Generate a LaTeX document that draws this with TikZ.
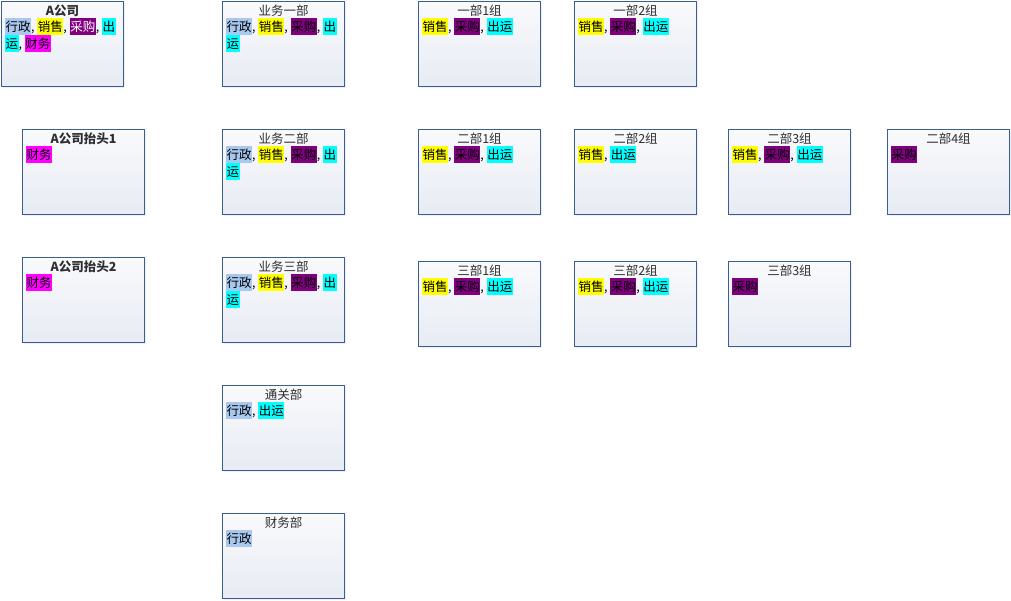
\documentclass[tikz,border=0pt]{standalone}
\usepackage{fontspec}
\setmainfont{Noto Sans CJK SC}
\usetikzlibrary{shadows}
\definecolor{hlblue}{HTML}{A8C8F0}
\definecolor{hlyellow}{HTML}{FFFF00}
\definecolor{hlpurple}{HTML}{800080}
\definecolor{hlcyan}{HTML}{00FFFF}
\definecolor{hlmagenta}{HTML}{FF00FF}
\definecolor{boxborder}{HTML}{3B5E92}
\definecolor{boxtop}{HTML}{F9FAFC}
\definecolor{boxbot}{HTML}{E7EBF3}
\definecolor{titlegray}{HTML}{2E2E2E}
\newcommand\hlbox[3][black]{\begingroup\setlength{\fboxsep}{0pt}\colorbox{#2}{\rule[-4pt]{0pt}{17pt}\hspace{0.5pt}\textcolor{#1}{#3}\hspace{0.5pt}}\endgroup}
\newcommand\tXZ{\hlbox{hlblue}{行政}}
\newcommand\tXS{\hlbox{hlyellow}{销售}}
\newcommand\tCG{\hlbox{hlpurple}{采购}}
\newcommand\tCGw{\hlbox[white]{hlpurple}{采购}}
\newcommand\tCY{\hlbox{hlcyan}{出运}}
\newcommand\tCa{\hlbox{hlcyan}{出}}
\newcommand\tCb{\hlbox{hlcyan}{运}}
\newcommand\tCW{\hlbox{hlmagenta}{财务}}
\tikzset{
  orgbox/.style={draw=boxborder, line width=1pt, top color=boxtop, bottom color=boxbot,
    minimum width=122pt, minimum height=85pt, inner sep=0pt, anchor=north west,
    drop shadow={opacity=0.12, shadow xshift=1.5pt, shadow yshift=-1.5pt}},
  boxtitle/.style={inner sep=0pt, text=titlegray, font=\fontsize{12.5}{17}\selectfont},
  boxcontent/.style={inner sep=0pt, anchor=north west, align=left, font=\fontsize{12.5}{17}\selectfont}
}
\newcommand\orgbox[6]{%
  \node[orgbox] (#1) at (#2,#3) {};
  \node[boxtitle, font=\fontsize{12.5}{17}\selectfont#6] (#1-t) at ([yshift=-9.5pt]#1.north) {#4};
  \node[boxcontent] (#1-c) at ([shift={(4pt,-17pt)}]#1.north west) {#5};
}
\begin{document}
\begin{tikzpicture}[x=1pt,y=-1pt]
\useasboundingbox[fill=white] (0,0) rectangle (1011,601);
\orgbox{acomp}{1}{1}{A公司}{\tXZ, \tXS, \tCGw, \tCa\\\tCb, \tCW}{\bfseries}
\orgbox{tai1}{22}{129}{A公司抬头1}{\tCW}{\bfseries}
\orgbox{tai2}{22}{257}{A公司抬头2}{\tCW}{\bfseries}
\orgbox{yw1}{222}{1}{业务一部}{\tXZ, \tXS, \tCG, \tCa\\\tCb}{}
\orgbox{yw2}{222}{129}{业务二部}{\tXZ, \tXS, \tCG, \tCa\\\tCb}{}
\orgbox{yw3}{222}{257}{业务三部}{\tXZ, \tXS, \tCG, \tCa\\\tCb}{}
\orgbox{tg}{222}{385}{通关部}{\tXZ, \tCY}{}
\orgbox{cw}{222}{513}{财务部}{\tXZ}{}
\orgbox{g11}{418}{1}{一部1组}{\tXS, \tCG, \tCY}{}
\orgbox{g12}{574}{1}{一部2组}{\tXS, \tCG, \tCY}{}
\orgbox{g21}{418}{129}{二部1组}{\tXS, \tCG, \tCY}{}
\orgbox{g22}{574}{129}{二部2组}{\tXS, \tCY}{}
\orgbox{g23}{728}{129}{二部3组}{\tXS, \tCG, \tCY}{}
\orgbox{g24}{887}{129}{二部4组}{\tCG}{}
\orgbox{g31}{418}{261}{三部1组}{\tXS, \tCG, \tCY}{}
\orgbox{g32}{574}{261}{三部2组}{\tXS, \tCG, \tCY}{}
\orgbox{g33}{728}{261}{三部3组}{\tCG}{}
\end{tikzpicture}
\end{document}
